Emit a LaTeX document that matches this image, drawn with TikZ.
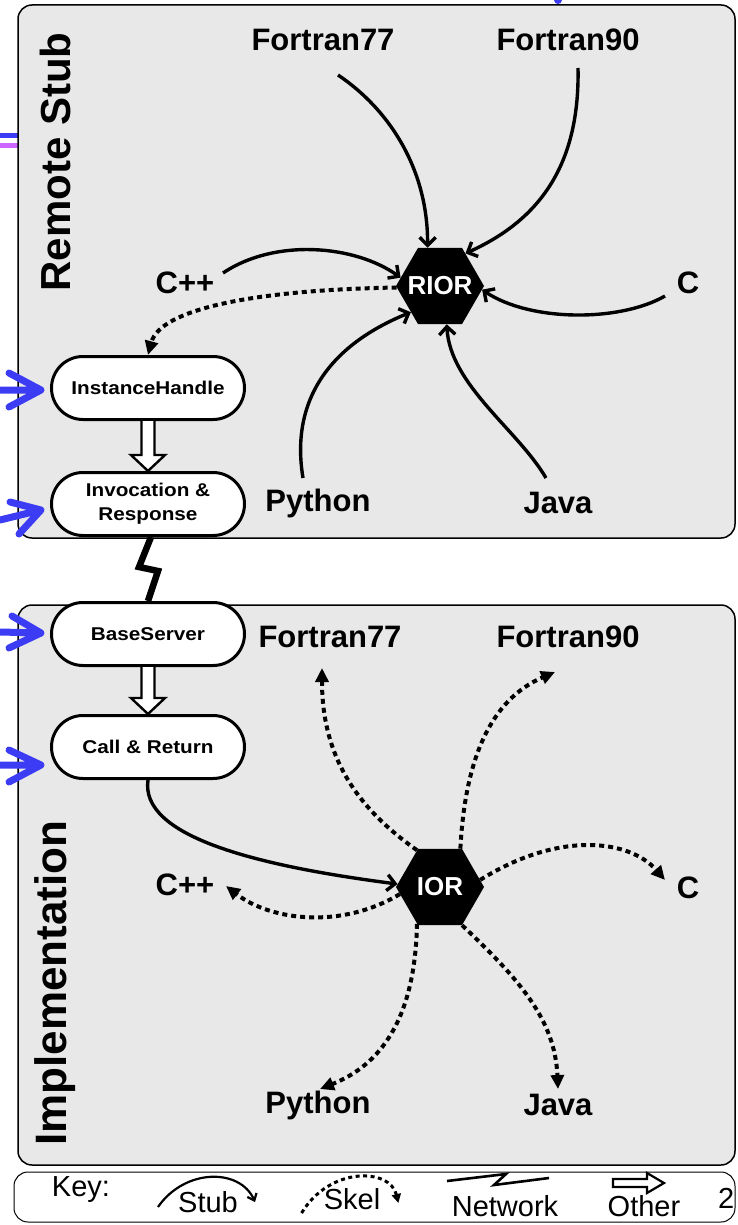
\documentclass[tikz,border=0pt]{standalone}
\usepackage{fontspec}
\setmainfont{Liberation Sans}
\newfontfamily\pillfont[FakeStretch=1.12]{Liberation Sans}
\usetikzlibrary{shapes.geometric,shapes.misc,arrows.meta,calc}
\definecolor{panelgray}{HTML}{E8E8E8}
\definecolor{bluearrow}{HTML}{3C3CF5}
\definecolor{purpleline}{HTML}{CC66FF}
\begin{document}
\begin{tikzpicture}[x=1pt,y=-1pt,
 panel/.style={draw=black, line width=1.5pt, rounded corners=14pt, fill=panelgray},
 keybox/.style={draw=black, line width=1pt, rounded corners=14pt, fill=white},
 pill/.style={draw, line width=3pt, rounded rectangle, minimum width=193pt, minimum height=63pt, fill=white, align=center, font=\pillfont\bfseries\fontsize{18.5}{24}\selectfont, inner sep=0pt},
 lbl/.style={font=\bfseries\fontsize{31}{34}\selectfont, inner sep=0pt},
 title/.style={font=\bfseries\fontsize{42}{46}\selectfont, rotate=90, inner sep=0pt},
 hexnode/.style={regular polygon, regular polygon sides=6, minimum size=88pt, fill=black, inner sep=0pt},
 hextxt/.style={text=white, font=\bfseries\fontsize{26}{28}\selectfont, inner sep=0pt},
 keytxt/.style={font=\fontsize{29}{32}\selectfont, inner sep=0pt},
 stub/.style={line width=3.4pt, -{Straight Barb[length=8pt,width=16pt]}},
 skel/.style={line width=4pt, dash pattern=on 5pt off 4pt, -{Triangle[length=14pt,width=13pt]}},
 hollow/.style={draw, fill=white, line width=2.4pt, line join=miter},
 bluearr/.style={draw=bluearrow, line width=7pt, line cap=round, line join=round},
 netw/.style={line width=6.5pt, line join=miter}
]
\useasboundingbox (0,0) rectangle (737,1225);

% slide remnants
\fill[bluearrow] (0,133) rectangle (18,138);
\fill[purpleline] (0,143) rectangle (18,148);
\fill[bluearrow] (558,0) circle (4);

% panels
\draw[panel] (18,5) rectangle (735,538);
\draw[panel] (18,605) rectangle (735,1165);
\draw[keybox] (14,1172) rectangle (735,1222);

% titles
\node[title] (rs) at (55,162) {Remote Stub};
\node[title, font=\bfseries\fontsize{44}{48}\selectfont] (impl) at (55,983) {Implementation};

% left pills
\node[pill] (ih) at (148,388) {InstanceHandle};
\node[pill] (ir) at (148,504) {Invocation \&\\Response};
\node[pill] (bs) at (148,634) {BaseServer};
\node[pill] (cr) at (148,747) {Call \& Return};

% hollow arrows
\draw[hollow] ($(ih.south)+(-6.5,0)$) -- ($(ir.north)+(-6.5,-16)$) -- ($(ir.north)+(-17,-16)$) -- (ir.north) -- ($(ir.north)+(17,-16)$) -- ($(ir.north)+(6.5,-16)$) -- ($(ih.south)+(6.5,0)$);
\draw[hollow] ($(bs.south)+(-6.5,0)$) -- ($(cr.north)+(-6.5,-16)$) -- ($(cr.north)+(-17,-16)$) -- (cr.north) -- ($(cr.north)+(17,-16)$) -- ($(cr.north)+(6.5,-16)$) -- ($(bs.south)+(6.5,0)$);

% network link
\draw[netw] ($(ir.south)+(3,0)$) -- (139,567) -- (158,571) -- (bs.north);

% blue arrows
\coordinate (b1) at (0,390); \coordinate (t1) at (41,390);
\draw[bluearr] (b1) -- (t1) (9,373) -- (t1) -- (9,407);
\coordinate (b2) at (0,520); \coordinate (t2) at (41,510);
\draw[bluearr] (b2) -- (t2) (10,502) -- (t2) -- (19,534);
\coordinate (b3) at (0,632); \coordinate (t3) at (41,633);
\draw[bluearr] (b3) -- (t3) (12,616) -- (t3) -- (9,648);
\coordinate (b4) at (0,765); \coordinate (t4) at (41,765);
\draw[bluearr] (b4) -- (t4) (9,750) -- (t4) -- (9,782);

% ===== top panel =====
\node[hexnode] (rior) at (440,286) {};
\node[hextxt] (riort) at (rior) {RIOR};
\node[lbl] (f77) at (323,40) {Fortran77};
\node[lbl] (f90) at (568,40) {Fortran90};
\node[lbl] (cpp) at (185,283) {C++};
\node[lbl] (c) at (688,283) {C};
\node[lbl] (py) at (318,503) {Python};
\node[lbl] (java) at (558,503) {Java};

\draw[stub] ($(f77)+(15,35)$) .. controls (390,110) and (428,170) .. (rior.108);
\draw[stub] ($(f90)+(10,28)$) .. controls (580,170) and (535,222) .. (rior.52);
\draw[stub] ($(cpp)+(38,-10)$) .. controls (275,238) and (355,245) .. (rior.168);
\draw[stub] ($(c)+(-23,13)$) .. controls (620,322) and (530,322) .. (rior.355);
\draw[stub] ($(py)+(-15,-25)$) .. controls (290,400) and (330,345) .. (rior.222);
\draw[stub] ($(java)+(-12,-25)$) .. controls (518,430) and (450,385) .. (rior.280);
\draw[skel] (rior.182) .. controls (250,290) and (160,310) .. (ih.north);

% ===== bottom panel =====
\node[hexnode] (ior) at (440,887) {};
\node[hextxt] (iort) at (ior) {IOR};
\node[lbl] (f77b) at (330,637) {Fortran77};
\node[lbl] (f90b) at (568,637) {Fortran90};
\node[lbl] (cppb) at (185,885) {C++};
\node[lbl] (cb) at (688,888) {C};
\node[lbl] (pyb) at (318,1105) {Python};
\node[lbl] (javab) at (558,1105) {Java};

\draw[stub] (cr.south) .. controls (140,835) and (250,865) .. (ior.176);
\draw[skel] (ior.122) .. controls (360,810) and (322,760) .. ($(f77b)+(-8,31)$);
\draw[skel] (ior.62) .. controls (465,760) and (490,700) .. ($(f90b)+(-13,35)$);
\draw[skel] (ior.10) .. controls (560,830) and (630,840) .. ($(cb)+(-23,-8)$);
\draw[skel] (ior.190) .. controls (340,930) and (270,920) .. ($(cppb)+(41,1)$);
\draw[skel] (ior.238) .. controls (415,1020) and (380,1065) .. ($(pyb)+(2,-16)$);
\draw[skel] (ior.300) .. controls (520,980) and (555,1020) .. ($(javab)+(0,-16)$);

% ===== key =====
\node[keytxt] (key) at (81,1190) {Key:};
\node[keytxt] (kstub) at (208,1202) {Stub};
\node[keytxt] (kskel) at (352,1199) {Skel};
\node[keytxt] (knet) at (505,1206) {Network};
\node[keytxt] (koth) at (644,1206) {Other};
\node[keytxt, anchor=west] (pg) at (718,1198) {2};

\draw[line width=2.2pt, -{Straight Barb[length=6pt,width=10pt]}] ($(kstub.west)+(-20,5)$) .. controls (185,1168) and (240,1168) .. ($(kstub.east)+(17,0)$);
\draw[line width=3pt, dash pattern=on 4pt off 3.5pt, -{Triangle[length=9pt,width=9pt]}] ($(kskel.west)+(-22,14)$) .. controls (330,1166) and (390,1168) .. ($(kskel.east)+(18,4)$);
\coordinate (n1) at (447,1181);
\coordinate (n2) at (549,1178);
\draw[line width=2.6pt, line join=miter] (n1) -- (506,1174) -- (494,1185) -- (n2);
\draw[hollow, line width=2.2pt] (613,1179) -- (647,1179) -- (647,1173) -- (664,1183) -- (647,1193) -- (647,1187) -- (613,1187) -- cycle;
\end{tikzpicture}
\end{document}
